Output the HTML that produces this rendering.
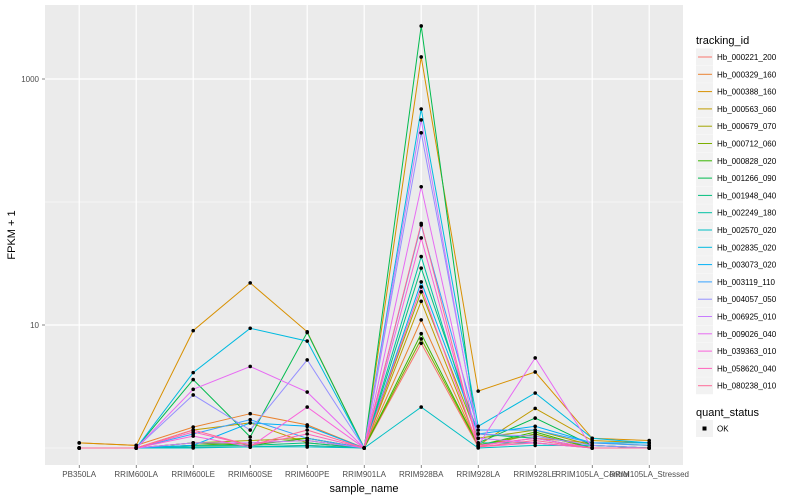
<!DOCTYPE html>
<html><head><meta charset="utf-8">
<style>
html,body{margin:0;padding:0;background:#fff;}
svg{display:block;font-family:"Liberation Sans",Arial,sans-serif;}
</style></head>
<body>
<svg id="chart" width="800" height="500" viewBox="0 0 800 500" xmlns="http://www.w3.org/2000/svg">
<rect x="45" y="5" width="638" height="460" fill="#EBEBEB"/>
<g id="grid"></g>
<g id="lines"></g>
<g id="points"></g>
<g id="yticks"></g>
<g id="xticks"></g>
<text x="364" y="492" font-size="11" text-anchor="middle" fill="#000">sample_name</text>
<text transform="translate(15,235) rotate(-90)" font-size="11" text-anchor="middle" fill="#000">FPKM + 1</text>
<g id="legend">
<text x="696" y="44" font-size="11">tracking_id</text>
<text x="696" y="416" font-size="11">quant_status</text>
</g>
</svg>
<script>
const categories = ["PB350LA","RRIM600LA","RRIM600LE","RRIM600SE","RRIM600PE","RRIM901LA","RRIM928BA","RRIM928LA","RRIM928LE","RRIM105LA_Control","RRIM105LA_Stressed"];
const seriesNames = ["Hb_000221_200","Hb_000329_160","Hb_000388_160","Hb_000563_060","Hb_000679_070","Hb_000712_060","Hb_000828_020","Hb_001266_090","Hb_001948_040","Hb_002249_180","Hb_002570_020","Hb_002835_020","Hb_003073_020","Hb_003119_110","Hb_004057_050","Hb_006925_010","Hb_009026_040","Hb_039363_010","Hb_058620_040","Hb_080238_010"];
const seriesColors = ["#F8766D","#EA8331","#D89000","#C09B00","#A3A500","#7CAE00","#39B600","#00BB4E","#00BF7D","#00C1A3","#00BFC4","#00BAE0","#00B0F6","#35A2FF","#9590FF","#C77CFF","#E76BF3","#FA62DB","#FF62BC","#FF6A98"];
const s0 = [1,1,1.02,1.02,1.05,1,7.1,1.02,1.3,1,1];
const s1 = [1.1,1.05,1.48,1.9,1.54,1,11,1.05,1.2,1.1,1.05];
const s2 = [1.1,1.05,9.0,22,8.8,1,1510,2.9,4.15,1.2,1.15];
const s3 = [1,1,1.4,1.6,1.1,1,15.6,1.05,2.1,1.15,1.1];
const s4 = [1,1,1.1,1.15,1.2,1,18.6,1.2,1.4,1.05,1];
const s5 = [1,1,1.05,1.1,1.15,1,7.7,1.05,1.3,1,1];
const s6 = [1,1,1.1,1.05,1.2,1,8.5,1.05,1.35,1,1];
const s7 = [1,1,3.6,1.23,8.7,1,2700,1.1,1.75,1.05,1];
const s8 = [1,1,1.05,1.05,1.1,1,29,1.3,1.2,1,1];
const s9 = [1,1,1.02,1.02,1.05,1,36,1.1,1.1,1,1];
const s10 = [1,1,1,1.02,1.02,1,2.15,1,1.05,1.05,1];
const s11 = [1,1,4.1,9.4,7.4,1,570,1.5,2.8,1.2,1.1];
const s12 = [1,1,1.05,1.6,1.5,1,22.4,1.3,1.5,1.1,1.1];
const s13 = [1,1,1.3,1.7,1.2,1,65,1.4,1.4,1.1,1.05];
const s14 = [1,1,2.7,1.4,5.2,1,365,1.3,1.25,1.05,1];
const s15 = [1,1,1.1,1.1,1.15,1,465,1.2,1.1,1,1];
const s16 = [1,1,3.0,4.6,2.85,1,133,1.05,5.4,1,1];
const s17 = [1,1,1.25,1.02,2.15,1,51,1.05,1.2,1,1];
const s18 = [1,1,1.35,1.05,1.3,1,20.4,1.02,1.1,1,1];
const s19 = [1,1,1.4,1.05,1.4,1,67,1.02,1.15,1,1];
const seriesValues = [s0,s1,s2,s3,s4,s5,s6,s7,s8,s9,s10,s11,s12,s13,s14,s15,s16,s17,s18,s19];
const yMajorTicks = [10,1000];
const yMinorTicks = [1,100];
const yTickLabels = ["10","1000"];

const NS="http://www.w3.org/2000/svg";
const xScale = i => 45 + (i + 0.6) * 57;
const yScale = v => 448 - 123 * Math.log10(v);
function mk(tag, attrs, parent){const e=document.createElementNS(NS,tag);for(const k in attrs)e.setAttribute(k,attrs[k]);parent.appendChild(e);return e;}
const grid=document.getElementById('grid');
yMinorTicks.forEach(v=>{const l=mk('line',{x1:45,x2:683,y1:yScale(v),y2:yScale(v),stroke:'#fff','stroke-width':0.6},grid);

});
yMajorTicks.forEach(v=>{const l=mk('line',{x1:45,x2:683,y1:yScale(v),y2:yScale(v),stroke:'#fff','stroke-width':1.2},grid);

});
categories.forEach((c,i)=>{const l=mk('line',{x1:xScale(i),x2:xScale(i),y1:5,y2:465,stroke:'#fff','stroke-width':1.2},grid);

});
const yt=document.getElementById('yticks');
yMajorTicks.forEach((v,k)=>{const t=mk('text',{x:39,y:yScale(v)+3,'font-size':8,'text-anchor':'end',fill:'#4D4D4D'},yt);t.textContent=yTickLabels[k];


const m=mk('line',{x1:42,x2:45,y1:yScale(v),y2:yScale(v),stroke:'#333','stroke-width':0.6},yt);

});
const xt=document.getElementById('xticks');
categories.forEach((c,i)=>{const t=mk('text',{x:xScale(i),y:477,'font-size':8,'text-anchor':'middle',fill:'#4D4D4D'},xt);t.textContent=c;


const m=mk('line',{x1:xScale(i),x2:xScale(i),y1:465,y2:468,stroke:'#333','stroke-width':0.6},xt);

});
const lines=document.getElementById('lines'), pts=document.getElementById('points');
seriesValues.forEach((vals,s)=>{
  const d=vals.map((v,i)=>(i?'L':'M')+xScale(i).toFixed(1)+','+yScale(v).toFixed(1)).join(' ');
  const p=mk('path',{d:d,fill:'none',stroke:seriesColors[s],'stroke-width':1},lines);
  
  
});
seriesValues.forEach((vals,s)=>{
  vals.forEach((v,i)=>{const c=mk('circle',{cx:xScale(i),cy:yScale(v),r:1.8,fill:'#000'},pts);
  
  });
});
const lg=document.getElementById('legend');
seriesNames.forEach((n,s)=>{const y=57+s*17.3;
  const bg=mk('rect',{x:696,y:y-8.5,width:17,height:17,fill:'#F2F2F2'},lg);
  
  
  const l=mk('line',{x1:698,x2:712,y1:y,y2:y,stroke:seriesColors[s],'stroke-width':1},lg);
  
  
  const t=mk('text',{x:717,y:y+3,'font-size':8,fill:'#000'},lg);t.textContent=n;
  
  
});
const qb=mk('rect',{x:696,y:420,width:17,height:17,fill:'#F2F2F2'},lg);


const qp=mk('rect',{x:702.5,y:426.5,width:4,height:4,fill:'#000'},lg);


const qt=mk('text',{x:717,y:431.5,'font-size':8,fill:'#000'},lg);qt.textContent='OK';


</script>
</body></html>
